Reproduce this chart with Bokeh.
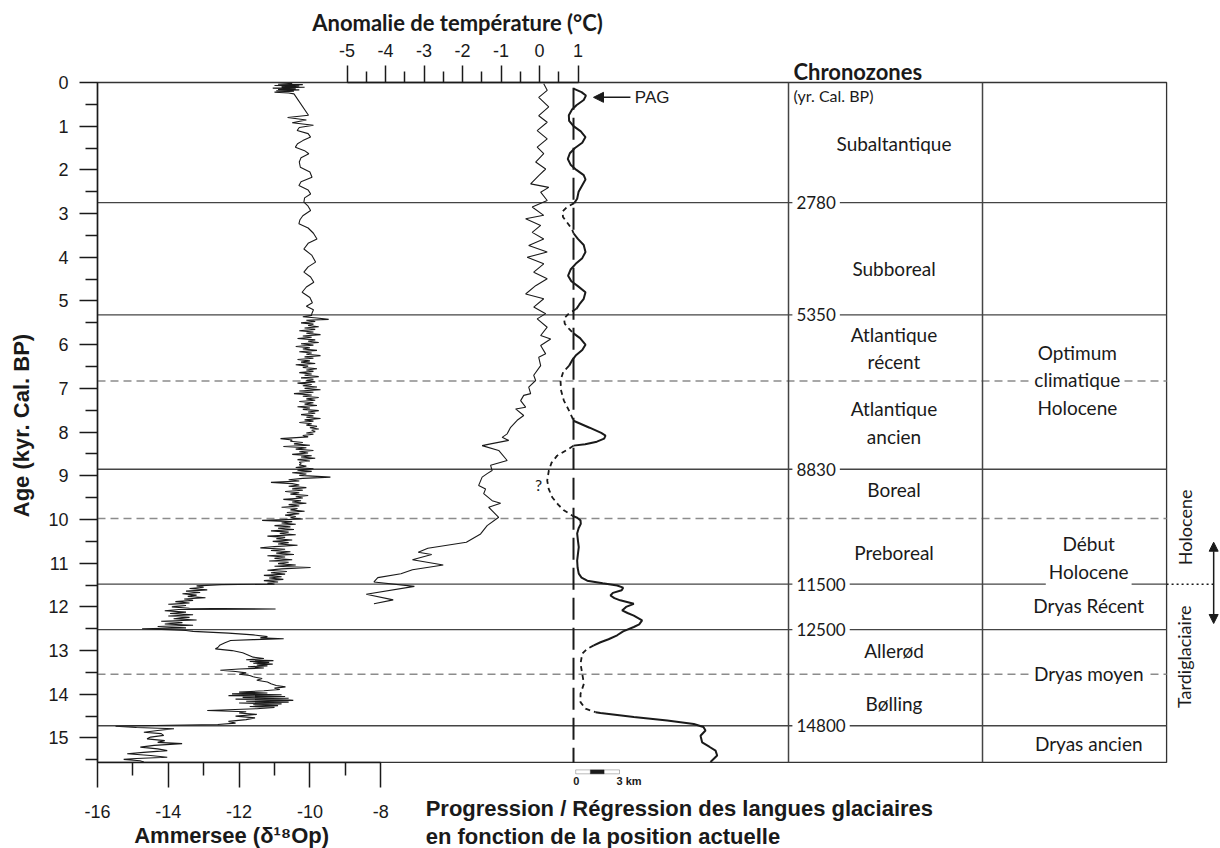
import math
from bokeh.plotting import figure
from bokeh.models import (Range1d, LinearAxis, FixedTicker, Label,
                          Arrow, NormalHead, BoxAnnotation)
from bokeh.embed import file_html
from bokeh.resources import INLINE

# ------------------------------------------------------------------ data
age_ticks = [0, 1, 2, 3, 4, 5, 6, 7, 8, 9, 10, 11, 12, 13, 14, 15]
age_minor_ticks = [0.5, 1.5, 2.5, 3.5, 4.5, 5.5, 6.5, 7.5, 8.5, 9.5, 10.5,
                   11.5, 12.5, 13.5, 14.5, 15.5]
age_extent = (0, 15.56)            # age span of the diagram box
d18o_ticks = [-16, -14, -12, -10, -8]
d18o_minor_ticks = [-15, -13, -11, -9]
d18o_tick_labels = ["-16", "-14", "-12", "-10", "-8"]
temp_ticks = [-5, -4, -3, -2, -1, 0, 1]
temp_minor_ticks = [-4.5, -3.5, -2.5, -1.5, -0.5, 0.5]
temp_tick_labels = ["-5", "-4", "-3", "-2", "-1", "0", "1"]

# chronozone boundaries (kyr) and their labels (yr cal BP)
boundary_ages = [2.75, 5.32, 8.85, 11.48, 12.52, 14.72]
boundary_labels = ["2780", "5350", "8830", "11500", "12500", "14800"]
subzone_ages = [6.83, 9.98, 13.54]

chronozone_names = ["Subaltantique", "Subboreal", "Atlantique\nrécent",
                    "Atlantique\nancien", "Boreal", "Preboreal", "Allerød",
                    "Bølling"]
chronozone_ages = [1.40, 4.26, 6.08, 7.78, 9.32, 10.75, 13.0, 14.2]

climate_names = ["Optimum\nclimatique\nHolocene", "Début\nHolocene",
                 "Dryas Récent", "Dryas moyen", "Dryas ancien"]
climate_ages = [6.8, 10.87, 11.97, 13.52, 15.12]

# Ammersee delta18O (age kyr, permil)
ammersee_holocene = [
    (0.02, -10.5), (0.04, -10.9), (0.05, -10.2), (0.07, -11.0), (0.08, -10.3),
    (0.10, -10.8), (0.11, -10.15), (0.13, -11.05), (0.14, -10.4), (0.16, -10.9),
    (0.17, -10.3), (0.19, -10.95), (0.20, -10.45), (0.22, -11.0), (0.24, -10.6),
    (0.26, -10.45), (0.75, -10.04), (0.80, -10.63), (0.86, -10.1), (0.92, -10.5),
    (0.98, -9.9), (1.03, -10.3), (1.10, -10.36), (1.17, -10.05), (1.25, -9.98),
    (1.33, -10.2), (1.40, -10.35), (1.48, -10.41), (1.56, -10.15), (1.63, -10.03),
    (1.72, -10.25), (1.82, -10.3), (1.94, -10.27), (2.05, -10.0), (2.17, -9.94),
    (2.27, -10.25), (2.36, -10.31), (2.46, -10.05), (2.55, -9.98), (2.64, -10.15),
    (2.74, -10.17), (2.83, -10.05), (2.93, -9.98), (3.05, -10.2), (3.14, -10.28),
    (3.23, -10.31), (3.33, -10.05), (3.45, -9.9), (3.58, -9.8), (3.68, -10.05),
    (3.81, -10.17), (3.95, -9.95), (4.11, -9.84), (4.22, -10.05), (4.34, -10.17),
    (4.45, -9.98), (4.57, -9.89), (4.68, -10.1), (4.80, -10.22), (4.92, -10.0),
    (5.04, -9.93), (5.12, -10.1), (5.20, -9.9), (5.30, -9.95),
]
ammersee_mid_holocene = [
    (5.33, -9.95), (5.36, -10.2), (5.39, -9.8), (5.42, -9.47), (5.44, -10.1),
    (5.47, -9.85), (5.50, -10.25), (5.53, -9.9), (5.56, -10.05), (5.59, -9.75),
    (5.62, -10.15), (5.65, -9.85), (5.68, -10.3), (5.71, -9.9), (5.74, -10.1),
    (5.77, -9.7), (5.80, -10.2), (5.83, -9.95), (5.86, -10.35), (5.89, -9.85),
    (5.92, -10.05), (5.95, -9.75), (5.98, -10.25), (6.01, -9.9), (6.04, -10.4),
    (6.07, -10.0), (6.10, -10.2), (6.13, -9.8), (6.16, -10.3), (6.19, -9.95),
    (6.22, -10.1), (6.25, -9.7), (6.28, -10.15), (6.31, -9.9), (6.34, -10.35),
    (6.37, -10.0), (6.40, -10.25), (6.43, -9.85), (6.46, -10.4), (6.49, -10.05),
    (6.52, -10.2), (6.55, -9.8), (6.58, -10.1), (6.61, -9.9), (6.64, -10.3),
    (6.67, -9.95), (6.70, -10.15), (6.73, -9.75), (6.76, -10.25), (6.79, -9.9),
    (6.82, -10.1), (6.85, -9.85), (6.88, -10.35), (6.91, -9.95), (6.94, -10.2),
    (6.97, -9.8), (7.00, -10.15), (7.03, -9.7), (7.06, -10.3), (7.09, -9.9),
    (7.12, -10.45), (7.15, -9.95), (7.18, -10.2), (7.21, -9.75), (7.24, -10.1),
    (7.27, -9.85), (7.30, -10.3), (7.33, -9.9), (7.36, -10.15), (7.39, -9.8),
    (7.42, -10.35), (7.45, -10.0), (7.48, -10.2), (7.51, -9.75), (7.54, -10.05),
    (7.57, -9.85), (7.60, -10.25), (7.63, -9.9), (7.66, -10.1), (7.69, -9.7),
    (7.72, -10.15), (7.75, -9.9), (7.78, -10.3), (7.81, -9.95), (7.84, -10.1),
    (7.87, -9.8), (7.90, -10.0), (7.93, -9.75), (7.96, -9.95), (7.99, -9.85),
    (8.02, -10.1), (8.05, -9.9), (8.08, -10.2), (8.11, -10.05), (8.15, -10.83),
    (8.18, -10.5), (8.21, -10.55), (8.24, -10.2), (8.27, -10.45), (8.30, -10.0),
    (8.33, -10.75), (8.36, -10.1), (8.39, -10.4), (8.42, -9.9), (8.45, -10.3),
    (8.48, -10.05), (8.51, -10.5), (8.54, -9.95), (8.57, -10.25), (8.60, -9.85),
    (8.63, -10.35), (8.66, -10.0), (8.69, -10.3), (8.72, -10.25), (8.75, -10.3),
    (8.78, -10.1), (8.81, -10.4), (8.84, -9.9), (8.87, -10.35), (8.90, -9.95),
    (8.93, -10.5), (8.96, -10.1), (8.99, -10.3), (9.03, -9.42), (9.06, -10.2),
    (9.09, -10.6), (9.12, -10.3), (9.15, -11.1), (9.18, -10.5), (9.21, -10.3),
    (9.24, -10.6), (9.27, -10.1), (9.30, -10.5), (9.33, -10.2), (9.36, -10.7),
    (9.39, -10.3), (9.42, -10.55), (9.45, -10.05), (9.48, -10.4), (9.51, -10.2),
    (9.54, -10.75), (9.57, -10.25), (9.60, -10.5), (9.63, -10.1), (9.66, -10.6),
    (9.69, -10.3), (9.72, -10.8), (9.75, -10.35), (9.78, -10.55), (9.81, -10.15),
    (9.84, -10.65), (9.87, -10.3), (9.90, -10.7), (9.93, -10.4), (9.96, -10.55),
    (9.99, -10.2), (10.02, -11.35), (10.05, -10.5), (10.08, -10.8), (10.11, -10.4),
    (10.14, -11.0), (10.17, -10.55), (10.20, -10.9), (10.23, -10.45), (10.26, -11.1),
    (10.29, -10.6), (10.32, -10.85), (10.35, -10.4), (10.38, -11.2), (10.41, -10.7),
    (10.44, -10.95), (10.47, -10.5), (10.50, -11.05), (10.53, -10.6), (10.56, -10.9),
    (10.59, -10.35), (10.62, -11.0), (10.65, -11.4), (10.68, -10.7), (10.71, -11.1),
    (10.74, -10.55), (10.77, -10.95), (10.80, -10.45), (10.83, -11.2), (10.86, -10.7),
    (10.89, -11.0), (10.92, -10.5), (10.95, -11.15), (10.98, -10.6), (11.01, -10.9),
    (11.04, -10.4), (11.07, -11.0), (11.10, -9.98), (11.13, -10.8), (11.16, -11.2),
    (11.19, -10.65), (11.22, -11.1), (11.25, -10.7), (11.28, -11.3), (11.31, -10.8),
    (11.34, -11.15), (11.37, -10.75), (11.40, -11.3), (11.43, -10.9), (11.46, -11.2),
    (11.48, -11.0),
]
ammersee_lateglacial = [
    (11.49, -12.5), (11.52, -13.2), (11.55, -13.0), (11.58, -13.4), (11.61, -12.9),
    (11.64, -13.5), (11.67, -13.1), (11.70, -13.6), (11.73, -13.2), (11.76, -13.45),
    (11.79, -12.95), (11.82, -13.55), (11.85, -13.3), (11.88, -13.8), (11.91, -13.4),
    (11.94, -14.0), (11.97, -13.5), (12.00, -13.9), (12.03, -13.4), (12.05, -10.97),
    (12.06, -13.7), (12.09, -14.1), (12.12, -13.5), (12.15, -13.95), (12.18, -13.3),
    (12.21, -14.0), (12.24, -13.4), (12.27, -13.85), (12.30, -13.2), (12.33, -14.2),
    (12.36, -13.6), (12.39, -14.1), (12.42, -13.3), (12.45, -14.3), (12.48, -13.5),
    (12.50, -14.74), (12.52, -14.0), (12.54, -13.5), (12.56, -13.3), (12.60, -12.3),
    (12.64, -11.6), (12.68, -11.2), (12.71, -11.4), (12.73, -10.74), (12.75, -11.6),
    (12.77, -12.24), (12.82, -12.4), (12.88, -12.55), (12.93, -12.6), (12.96, -12.67),
    (13.00, -12.2), (13.05, -11.9), (13.10, -11.75), (13.15, -11.6), (13.18, -11.3),
    (13.21, -11.8), (13.23, -11.03), (13.25, -11.7), (13.27, -11.15), (13.29, -11.6),
    (13.31, -11.05), (13.33, -11.5), (13.35, -11.2), (13.37, -11.75), (13.40, -11.3),
    (13.42, -12.0), (13.45, -12.53), (13.48, -12.1), (13.51, -11.8), (13.54, -12.0),
    (13.57, -11.7), (13.60, -11.6), (13.64, -11.35), (13.68, -11.5), (13.72, -11.2),
    (13.76, -11.1), (13.80, -10.95), (13.83, -10.69), (13.86, -11.0), (13.89, -10.85),
    (13.92, -11.3), (13.95, -12.0), (13.97, -11.2), (13.99, -12.2), (14.01, -10.8),
    (14.03, -12.3), (14.05, -10.7), (14.07, -11.9), (14.09, -10.6), (14.11, -12.1),
    (14.13, -10.55), (14.14, -10.47), (14.16, -11.8), (14.18, -10.6), (14.20, -12.0),
    (14.22, -10.8), (14.24, -11.6), (14.26, -10.9), (14.28, -11.7), (14.30, -11.0),
    (14.33, -11.5), (14.37, -12.9), (14.40, -11.8), (14.43, -12.0), (14.46, -11.5),
    (14.50, -12.1), (14.54, -11.55), (14.58, -11.8), (14.62, -12.3), (14.66, -12.1),
    (14.69, -12.6), (14.71, -14.0), (14.73, -15.49), (14.76, -14.9), (14.79, -13.84),
    (14.83, -14.3), (14.87, -14.69), (14.90, -14.2), (14.94, -14.13), (14.98, -14.5),
    (15.02, -14.6), (15.06, -14.1), (15.10, -14.3), (15.13, -13.61), (15.17, -14.4),
    (15.21, -14.79), (15.25, -14.3), (15.29, -14.03), (15.33, -14.7), (15.36, -15.16),
    (15.40, -14.5), (15.44, -14.03), (15.47, -14.9), (15.49, -15.26), (15.52, -14.8),
    (15.55, -14.69),
]

# temperature anomaly (degC)
temp_age = [0.03, 0.18, 0.34, 0.56, 0.76, 0.91, 1.10, 1.29, 1.48, 1.63,
            1.82, 1.98, 2.13, 2.32, 2.40, 2.51, 2.70, 2.85, 3.04, 3.12,
            3.27, 3.43, 3.58, 3.73, 3.88, 4.00, 4.15, 4.34, 4.49, 4.65,
            4.84, 4.95, 5.14, 5.29, 5.41, 5.60, 5.79, 5.87, 6.02, 6.21,
            6.29, 6.48, 6.70, 6.82, 6.97, 7.12, 7.16, 7.28, 7.43, 7.47,
            7.62, 7.73, 7.89, 8.04, 8.12, 8.19, 8.27, 8.31, 8.42, 8.65,
            8.76, 8.88, 8.95, 9.03, 9.22, 9.30, 9.41, 9.57, 9.63, 9.72,
            9.95, 10.14, 10.33, 10.52, 10.66, 10.75, 10.80, 10.92, 11.04, 11.15,
            11.24, 11.33, 11.43, 11.53, 11.71, 11.84, 11.93]
temp_anom = [0.11, 0.2, -0.02, 0.24, -0.02, 0.2, -0.06, 0.2, -0.06, 0.11,
             -0.10, 0.16, -0.02, -0.23, 0.24, 0.03, 0.2, -0.19, 0.11, -0.36,
             0.03, -0.19, 0.11, -0.28, 0.2, -0.32, 0.11, -0.15, 0.2, -0.10,
             -0.36, 0.11, -0.15, 0.16, -0.06, 0.2, 0.03, 0.29, 0.03, 0.16,
             -0.02, 0.03, -0.15, -0.1, -0.28, -0.23, -0.41, -0.49, -0.36, -0.62,
             -0.41, -0.58, -0.75, -0.84, -0.97, -0.80, -1.27, -1.49, -1.06, -0.84,
             -1.27, -1.23, -1.36, -1.49, -1.58, -1.40, -1.45, -1.23, -1.01, -1.32,
             -1.06, -1.36, -1.53, -1.9, -2.9, -3.15, -2.8, -3.3, -2.5, -3.3,
             -3.6, -4.2, -4.3, -3.25, -4.5, -3.8, -4.3]

# glacier tongue position (age kyr, km from present, 1 = documented / 0 = inferred)
glacier_trace = [
    (0.14, 0.0, 1), (0.22, 0.55, 1), (0.30, 0.85, 1), (0.40, 0.7, 1), (0.52, 0.2, 1),
    (0.62, -0.1, 1), (0.75, -0.32, 1), (0.88, -0.3, 1), (1.0, 0.0, 1), (1.12, 0.5, 1),
    (1.25, 0.82, 1), (1.38, 0.6, 1), (1.50, 0.1, 1), (1.62, -0.25, 1), (1.75, -0.39, 1),
    (1.88, -0.2, 1), (2.0, 0.2, 1), (2.12, 0.7, 1), (2.22, 0.82, 1), (2.35, 0.6, 1),
    (2.50, 0.35, 1), (2.66, 0.25, 1), (2.76, 0.05, 0), (2.85, -0.45, 0), (2.95, -0.75, 0),
    (3.08, -0.72, 0), (3.22, -0.4, 0), (3.36, -0.1, 0), (3.45, 0.0, 1), (3.58, 0.3, 1),
    (3.72, 0.7, 1), (3.88, 0.82, 1), (4.02, 0.6, 1), (4.15, 0.15, 1), (4.28, -0.2, 1),
    (4.42, -0.37, 1), (4.55, -0.15, 1), (4.66, 0.3, 1), (4.80, 0.82, 1), (4.95, 0.7, 1),
    (5.08, 0.4, 1), (5.18, 0.2, 0), (5.28, -0.3, 0), (5.40, -0.65, 0), (5.52, -0.6, 0),
    (5.64, -0.3, 0), (5.74, 0.0, 1), (5.85, 0.45, 1), (6.0, 0.82, 1), (6.12, 0.6, 1),
    (6.25, 0.15, 1), (6.36, -0.1, 1), (6.48, -0.3, 0), (6.62, -0.7, 0), (6.82, -0.89, 0),
    (7.05, -0.85, 0), (7.28, -0.66, 0), (7.48, -0.35, 0), (7.66, -0.1, 0), (7.74, 0.0, 1),
    (7.90, 1.1, 1), (8.02, 1.9, 1), (8.08, 2.19, 1), (8.15, 2.1, 1), (8.22, 1.6, 1),
    (8.28, 0.8, 1), (8.31, 0.0, 0), (8.38, -0.3, 0), (8.54, -1.12, 0), (8.70, -1.5, 0),
    (8.88, -1.69, 0), (9.11, -1.8, 0), (9.30, -1.7, 0), (9.49, -1.46, 0), (9.66, -1.05, 0),
    (9.79, -0.66, 0), (9.91, -0.09, 1), (9.96, 0.25, 1), (10.02, 0.48, 1), (10.10, 0.5, 1),
    (10.20, 0.35, 1), (10.32, 0.25, 1), (10.47, 0.3, 1), (10.63, 0.36, 1), (10.80, 0.3, 1),
    (10.94, 0.25, 1), (11.10, 0.28, 1), (11.24, 0.36, 1), (11.33, 0.55, 1), (11.40, 0.94, 1),
    (11.46, 2.0, 1), (11.51, 2.99, 1), (11.56, 3.4, 1), (11.62, 3.3, 1), (11.68, 2.7, 1),
    (11.74, 2.53, 1), (11.80, 2.8, 1), (11.85, 3.2, 1), (11.93, 4.13, 1), (12.00, 3.6, 1),
    (12.08, 3.33, 1), (12.14, 3.7, 1), (12.20, 4.13, 1), (12.31, 4.7, 1), (12.40, 4.5, 1),
    (12.46, 4.13, 1), (12.56, 3.4, 1), (12.65, 2.99, 1), (12.74, 2.4, 1), (12.81, 1.85, 1),
    (12.88, 1.39, 0), (12.96, 0.94, 0), (13.07, 0.6, 0), (13.30, 0.48, 0), (13.53, 0.6, 0),
    (13.76, 0.71, 0), (13.99, 0.48, 0), (14.18, 0.48, 0), (14.33, 0.82, 0), (14.41, 1.51, 1),
    (14.43, 1.85, 1), (14.52, 4.13, 1), (14.60, 6.42, 1), (14.68, 8.24, 1), (14.75, 8.9, 1),
    (14.83, 9.04, 1), (14.95, 8.7, 1), (15.10, 8.81, 1), (15.20, 9.3, 1), (15.29, 9.73, 1),
    (15.40, 9.84, 1), (15.55, 9.38, 1),
]

# ------------------------------------------------------------------ derived
amm_points = ammersee_holocene + ammersee_mid_holocene + ammersee_lateglacial
amm_age = [a for a, _ in amm_points]
amm_d18o = [v for _, v in amm_points]

g_age = [a for a, _, _ in glacier_trace]
g_km = [k for _, k, _ in glacier_trace]
g_sure = [s for _, _, s in glacier_trace]
solid_xs, solid_ys, dash_xs, dash_ys = [], [], [], []
cur_x, cur_y, cur_s = [g_km[0]], [g_age[0]], g_sure[0]
for i in range(1, len(g_age)):
    cur_x.append(g_km[i]); cur_y.append(g_age[i])
    nxt = g_sure[i] if i < len(g_age) - 1 else None
    if nxt != cur_s:
        (solid_xs if cur_s else dash_xs).append(cur_x)
        (solid_ys if cur_s else dash_ys).append(cur_y)
        cur_x, cur_y, cur_s = [g_km[i]], [g_age[i]], nxt

# ------------------------------------------------------------------ figure
ARIAL = "Liberation Sans"
MYRIAD = "Lato"
INK = "#1a1a1a"
LINE = "#444444"

# the frame covers the whole canvas; the diagram box is drawn inside it
X_LO, X_HI = -16, 14.2          # d18O values at the left / right of the box
p = figure(width=1220, height=848, output_backend="svg", toolbar_location=None,
           x_range=Range1d(-18.74, 15.723), y_range=Range1d(17.529, -1.876),
           x_axis_type=None, y_axis_type=None,
           min_border_left=0, min_border_right=0,
           min_border_top=0, min_border_bottom=0)
p.extra_x_ranges = {"temp": Range1d(-14.0, 17.688),
                    "glacier": Range1d(-39.247, 44.315)}
p.outline_line_color = None
p.background_fill_color = "white"
p.border_fill_color = "white"


def style_axis(ax, tick_out, minor_out, standoff):
    ax.axis_line_color = INK
    ax.axis_line_width = 1.5
    ax.major_tick_line_color = INK
    ax.minor_tick_line_color = INK
    ax.major_tick_line_width = 1.5
    ax.minor_tick_line_width = 1.5
    ax.major_tick_in = 0
    ax.minor_tick_in = 0
    ax.major_tick_out = tick_out
    ax.minor_tick_out = minor_out
    ax.major_label_text_font = ARIAL
    ax.major_label_text_font_size = "18px"
    ax.major_label_text_color = INK
    ax.major_label_standoff = standoff


left_axis = LinearAxis(ticker=FixedTicker(ticks=age_ticks, minor_ticks=age_minor_ticks),
                       fixed_location=X_LO, bounds=age_extent)
style_axis(left_axis, 18, 12, 11)
p.add_layout(left_axis, "left")

bottom_axis = LinearAxis(ticker=FixedTicker(ticks=d18o_ticks, minor_ticks=d18o_minor_ticks),
                         fixed_location=age_extent[1], bounds=(-16, -8),
                         major_label_overrides=dict(zip(d18o_ticks, d18o_tick_labels)))
style_axis(bottom_axis, 25, 13, 18)
p.add_layout(bottom_axis, "below")

top_axis = LinearAxis(x_range_name="temp", fixed_location=age_extent[0],
                      ticker=FixedTicker(ticks=temp_ticks, minor_ticks=temp_minor_ticks),
                      bounds=(-5, 1),
                      major_label_overrides=dict(zip(temp_ticks, temp_tick_labels)))
style_axis(top_axis, 17, 11, 8)
p.add_layout(top_axis, "above")

# ------------------------------------------------------------------ box & table lines
p.quad(left=X_LO, right=X_HI, top=age_extent[0], bottom=age_extent[1],
       fill_color=None, line_color="#333333", line_width=1.3)
nb = len(boundary_ages)
p.segment(x0=[X_LO] * nb, x1=[X_HI] * nb, y0=boundary_ages, y1=boundary_ages,
          line_color=LINE, line_width=1.3)
ns = len(subzone_ages)
p.segment(x0=[X_LO] * ns, x1=[X_HI] * ns, y0=subzone_ages, y1=subzone_ages,
          line_color="#8c8c8c", line_width=1.5, line_dash="8 5")
table_cols = [3.52, 9.0]
p.segment(x0=table_cols, x1=table_cols, y0=[age_extent[0]] * 2, y1=[age_extent[1]] * 2,
          line_color=LINE, line_width=1.5)

# ------------------------------------------------------------------ curves
p.line(amm_d18o, amm_age, line_color=INK, line_width=1.1)
p.line(temp_anom, temp_age, x_range_name="temp", line_color=INK, line_width=1.1)
p.line([0, 0], [0.12, age_extent[1]], x_range_name="glacier", line_color=INK,
       line_width=2, line_dash="22 8")
p.multi_line(solid_xs, solid_ys, x_range_name="glacier", line_color=INK, line_width=2)
p.multi_line(dash_xs, dash_ys, x_range_name="glacier", line_color=INK,
             line_width=1.8, line_dash="5 4")


# ------------------------------------------------------------------ texts
def add_label(**kw):
    base = dict(text_color=INK, text_font=MYRIAD, text_font_size="19px",
                text_align="center", text_baseline="middle")
    base.update(kw)
    try:
        lab = Label(**base)
    except Exception:
        base.pop("padding", None)
        lab = Label(**base)
    p.add_layout(lab)
    return lab


# axis titles
add_label(x=-18.15, y=7.85, text="Age (kyr. Cal. BP)", angle=math.pi / 2,
          text_font=ARIAL, text_font_style="bold", text_font_size="22px")
add_label(x=-12.21, y=17.23, text="Ammersee (δ¹⁸Op)",
          text_font=ARIAL, text_font_style="bold", text_font_size="22px")
add_label(x=-2.13, y=-1.37, x_range_name="temp", text="Anomalie de température (°C)",
          text_font_style="bold", text_font_size="22px")
add_label(x=-6.73, y=16.61, text="Progression / Régression des langues glaciaires",
          text_align="left", text_font=ARIAL, text_font_style="bold", text_font_size="22px")
add_label(x=-6.73, y=17.25, text="en fonction de la position actuelle",
          text_align="left", text_font=ARIAL, text_font_style="bold", text_font_size="22px")

for name, a in zip(chronozone_names, chronozone_ages):
    add_label(x=6.5, y=a, text=name, text_line_height=1.2)

climate_x = [11.68, 12.0, 12.0, 12.0, 12.0]
for name, a, cx in zip(climate_names, climate_ages, climate_x):
    add_label(x=cx, y=a, text=name, text_line_height=1.2,
              background_fill_color="white", padding=3)

for lab, a in zip(boundary_labels, boundary_ages):
    add_label(x=3.63, y=a, text=lab, text_align="left", text_font_size="17px",
              background_fill_color="white", padding=4)

add_label(x=3.66, y=-0.25, text="Chronozones", text_align="left",
          text_font_style="bold", text_font_size="22px")
add_label(x=3.66, y=0.30, text="(yr. Cal. BP)", text_align="left",
          text_font_size="16px")

# period names on the right
add_label(x=14.73, y=10.18, text="Holocene", angle=math.pi / 2, text_font_size="18px")
add_label(x=14.68, y=13.14, text="Tardiglaciaire", angle=math.pi / 2, text_font_size="18px")
p.add_layout(Arrow(start=NormalHead(size=9, fill_color=INK, line_color=INK),
                   end=NormalHead(size=9, fill_color=INK, line_color=INK),
                   x_start=15.53, x_end=15.53, y_start=10.52, y_end=12.38,
                   line_color=INK, line_width=1.5))
p.add_layout(Arrow(end=None, x_start=X_HI, x_end=15.53, y_start=11.48, y_end=11.48,
                   line_color=INK, line_width=1.5, line_dash="2 3"))

# glacier annotations
p.add_layout(Arrow(end=NormalHead(size=10, fill_color=INK, line_color=INK),
                   x_start=3.9, x_end=1.37, y_start=0.34, y_end=0.34,
                   x_range_name="glacier", line_color=INK, line_width=1.5))
add_label(x=4.2, y=0.34, x_range_name="glacier", text="PAG", text_align="left",
          text_font=ARIAL, text_font_size="17px")
add_label(x=-2.4, y=9.21, x_range_name="glacier", text="?", text_font_size="16px")

# scale bar 0-3 km
p.add_layout(BoxAnnotation(left=0.15, right=3.15, top=15.73, bottom=15.82,
                           x_range_name="glacier", fill_color="white", fill_alpha=1,
                           line_color=INK, line_width=1))
p.add_layout(BoxAnnotation(left=1.15, right=2.1, top=15.73, bottom=15.82,
                           x_range_name="glacier", fill_color=INK, fill_alpha=1,
                           line_color=INK, line_width=1))
add_label(x=0.2, y=15.99, x_range_name="glacier", text="0", text_font=ARIAL,
          text_font_style="bold", text_font_size="11px")
add_label(x=2.95, y=15.99, x_range_name="glacier", text="3 km", text_align="left",
          text_font=ARIAL, text_font_style="bold", text_font_size="11px")

open("out.html", "w").write(file_html(p, INLINE))
